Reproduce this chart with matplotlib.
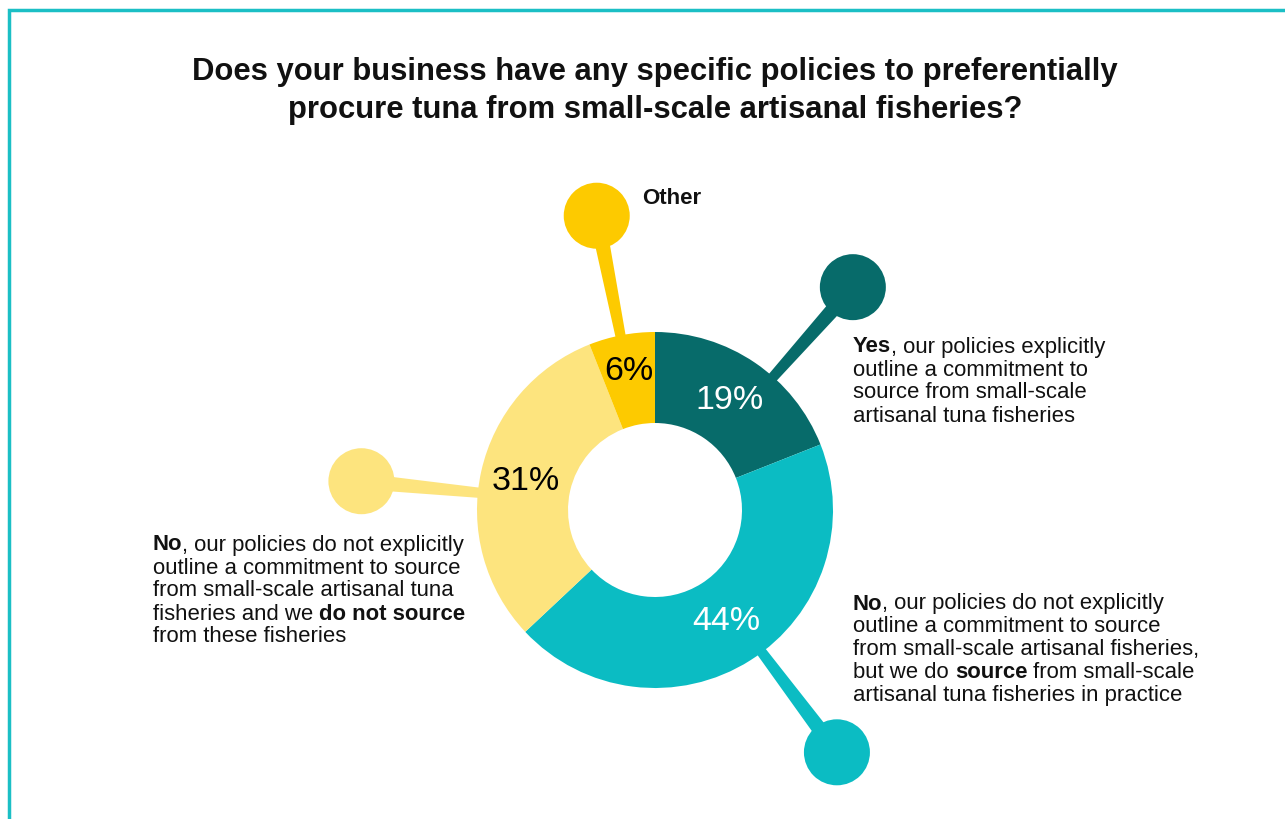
import numpy as np
import matplotlib
matplotlib.use("Agg")
import matplotlib.pyplot as plt
from matplotlib.patches import Circle, Polygon, Rectangle

# Survey answers, clockwise from 12 o'clock
answers = ["Yes", "No, but source in practice", "No, do not source", "Other"]
shares = [19, 44, 31, 6]
pct_labels = ["19%", "44%", "31%", "6%"]

title_lines = ["Does your business have any specific policies to preferentially",
               "procure tuna from small-scale artisanal fisheries?"]

# Label text per answer, as lines of (text, bold) pieces
label_yes = [[("Yes", True), (", our policies explicitly", False)],
             [("outline a commitment to", False)],
             [("source from small-scale", False)],
             [("artisanal tuna fisheries", False)]]
label_no_practice = [[("No", True), (", our policies do not explicitly", False)],
                     [("outline a commitment to source", False)],
                     [("from small-scale artisanal fisheries,", False)],
                     [("but we do ", False), ("source", True), (" from small-scale", False)],
                     [("artisanal tuna fisheries in practice", False)]]
label_no_source = [[("No", True), (", our policies do not explicitly", False)],
                   [("outline a commitment to source", False)],
                   [("from small-scale artisanal tuna", False)],
                   [("fisheries and we ", False), ("do not source", True)],
                   [("from these fisheries", False)]]
label_other = [[("Other", True)]]

colors = ["#076b6a", "#0bbcc3", "#fde47e", "#fdca00"]
pct_colors = ["white", "white", "black", "black"]

W, H = 1285, 819
plt.rcParams["font.family"] = ["Liberation Sans", "DejaVu Sans"]

fig = plt.figure(figsize=(W / 100, H / 100), dpi=100)
ax = fig.add_axes([0, 0, 1, 1])


def py(y):
    # image-style y (from top) to axes y
    return H - y


cx, cy = 655, py(510)
R, ring = 178, 91

wedges, _ = ax.pie(shares, colors=colors, startangle=90, counterclock=False,
                   radius=R, center=(cx, cy), frame=True,
                   wedgeprops=dict(width=ring, linewidth=0))
ax.set_xlim(0, W)
ax.set_ylim(0, H)
ax.set_aspect("equal")
ax.axis("off")

# frame running off the right and bottom edges
ax.add_patch(Rectangle((8.5, -20), W + 40, py(9.5) + 20, fill=False,
                       edgecolor="#1bbfc5", linewidth=2.5))

# title
for i, line in enumerate(title_lines):
    ax.text(655, py(72 + i * 38), line, ha="center", va="center",
            fontsize=22.3, fontweight="bold", color="#111111")

# percentage labels at the middle of each ring segment
bounds = np.cumsum([0] + shares) / sum(shares) * 360
for k, lab in enumerate(pct_labels):
    mid = np.deg2rad((bounds[k] + bounds[k + 1]) / 2)
    r = R - ring / 2 + (8 if k == 3 else 0)
    ax.text(cx + r * np.sin(mid), cy + r * np.cos(mid), lab, ha="center",
            va="center", fontsize=24.5, color=pct_colors[k])

# pins: stem out of the ring ending in a dot (clockwise degrees from top)
pin_angles = [41.6, 143.1, 275.6, 348.8]
pin_dist = [298, 303, 295, 300]
pin_r = 33
for k, (a, d) in enumerate(zip(pin_angles, pin_dist)):
    t = np.deg2rad(a)
    ux, uy = np.sin(t), np.cos(t)
    nx, ny = -uy, ux
    r0 = R - 6
    p0 = (cx + r0 * ux, cy + r0 * uy)
    p1 = (cx + d * ux, cy + d * uy)
    w0, w1 = 5, 8
    stem = [(p0[0] + nx * w0, p0[1] + ny * w0), (p1[0] + nx * w1, p1[1] + ny * w1),
            (p1[0] - nx * w1, p1[1] - ny * w1), (p0[0] - nx * w0, p0[1] - ny * w0)]
    ax.add_patch(Polygon(stem, closed=True, color=colors[k], linewidth=0, zorder=1))
    ax.add_patch(Circle(p1, pin_r, color=colors[k], linewidth=0, zorder=2))

fig.canvas.draw()
renderer = fig.canvas.get_renderer()


def rich_label(lines, x, y0, step=23, size=15.9):
    for i, pieces in enumerate(lines):
        xx = x
        for text, bold in pieces:
            t = ax.text(xx, py(y0 + i * step), text, ha="left", va="center",
                        fontsize=size, color="#111111",
                        fontweight="bold" if bold else "normal")
            bb = t.get_window_extent(renderer)
            xx += bb.width


rich_label(label_yes, 853, 347)
rich_label(label_no_practice, 853, 604)
rich_label(label_no_source, 153, 545)
rich_label(label_other, 642, 199, size=16)

fig.savefig("out.png", dpi=100)
